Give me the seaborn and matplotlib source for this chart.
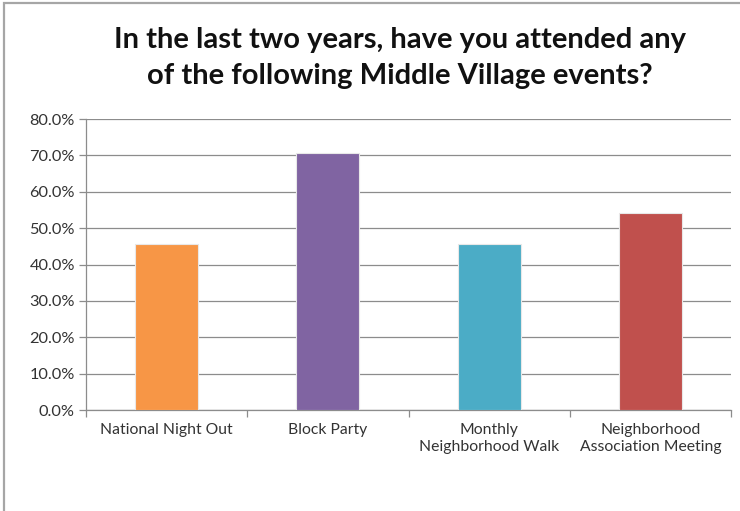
import matplotlib
matplotlib.use("Agg")
import matplotlib.pyplot as plt
import seaborn as sns
import pandas as pd
import numpy as np
from matplotlib.ticker import FuncFormatter, FixedLocator
from matplotlib.patches import Rectangle

categories = ["National Night Out", "Block Party", "Monthly\nNeighborhood Walk",
              "Neighborhood\nAssociation Meeting"]
values = [45.5, 70.7, 45.5, 54.1]
colors = ["#F79646", "#8064A2", "#4BACC6", "#C0504D"]
yticks = [0, 10, 20, 30, 40, 50, 60, 70, 80]
title = "In the last two years, have you attended any\nof the following Middle Village events?"

sns.set_theme(style="white")
plt.rcParams['font.family'] = ['Lato', 'DejaVu Sans']

df = pd.DataFrame({"cat": categories, "val": values})

fig = plt.figure(figsize=(7.40, 5.11), dpi=100)
ax = fig.add_axes([86/740, (511-410)/511, (731-86)/740, (410-119)/511])

sns.barplot(data=df, x="cat", y="val", hue="cat", palette=colors, legend=False,
            width=0.39, ax=ax, saturation=1, edgecolor="#e8e8e8", linewidth=0.8, zorder=3)

ax.set_ylim(0, 80)
ax.set_xlim(-0.5, 3.5)
ax.yaxis.set_major_locator(FixedLocator(yticks))
ax.yaxis.set_major_formatter(FuncFormatter(lambda v, p: f"{v:.1f}%"))
ax.grid(axis="y", color="#8c8c8c", linewidth=0.9, zorder=0)
ax.set_axisbelow(True)
ax.set_xlabel("")
ax.set_ylabel("")

for s in ["top", "right"]:
    ax.spines[s].set_visible(False)
for s in ["left", "bottom"]:
    ax.spines[s].set_color("#8c8c8c")
    ax.spines[s].set_linewidth(0.9)

ax.tick_params(axis="y", which="major", length=5, width=0.9, color="#8c8c8c",
               direction="out", left=True, labelsize=11.8, labelcolor="#333333", pad=3)
ax.tick_params(axis="x", which="major", length=0, labelsize=11.3, labelcolor="#333333", pad=9)
ax.set_xticks(np.arange(-0.5, 4.0, 1.0), minor=True)
ax.tick_params(axis="x", which="minor", length=5, width=0.9, color="#8c8c8c",
               direction="out", bottom=True)
for lab in ax.get_xticklabels():
    lab.set_linespacing(1.35)

fig.text(400/740, 1 - 58/511, title, ha="center", va="center", fontsize=21,
         fontweight="bold", color="#111111", linespacing=1.5)

fig.patches.append(Rectangle((4/740, -0.05), 1.0, 1.05 - 3/511, transform=fig.transFigure,
                             fill=False, edgecolor="#a6a6a6", linewidth=1.6))

fig.savefig("out.png", dpi=100, facecolor="white")
